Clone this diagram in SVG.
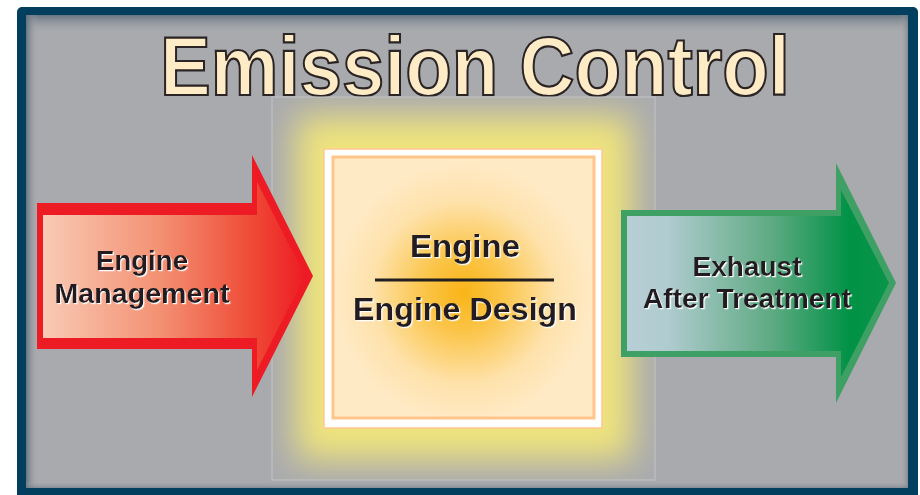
<svg xmlns="http://www.w3.org/2000/svg" width="920" height="495" viewBox="0 0 920 495">
  <defs>
    <style>
      .lbl { font-family: "Liberation Sans", Arial, sans-serif; font-weight: bold; fill: #231f20; text-anchor: middle; filter: url(#wsh); }
      .title { font-family: "Liberation Sans", Arial, sans-serif; font-weight: bold; font-size: 84px; fill: #ffebc6; stroke: #2a2524; stroke-width: 2.2; text-anchor: middle; }
    </style>
    <filter id="wsh" x="-10%" y="-30%" width="120%" height="160%">
      <feDropShadow dx="1.2" dy="1.2" stdDeviation="0.2" flood-color="#ffffff" flood-opacity="1"/>
    </filter>
    <filter id="glow" x="-30%" y="-30%" width="160%" height="160%">
      <feGaussianBlur stdDeviation="17"/>
    </filter>
    <clipPath id="panelClip">
      <rect x="272" y="97" width="383" height="383"/>
    </clipPath>
    <linearGradient id="topShade" x1="0" y1="0" x2="0" y2="1">
      <stop offset="0" stop-color="#5e6e7c" stop-opacity="0.9"/>
      <stop offset="1" stop-color="#a9aaae" stop-opacity="0"/>
    </linearGradient>
    <linearGradient id="leftShade" x1="0" y1="0" x2="1" y2="0">
      <stop offset="0" stop-color="#5e6e7c" stop-opacity="0.9"/>
      <stop offset="1" stop-color="#a9aaae" stop-opacity="0"/>
    </linearGradient>
    <linearGradient id="rightShade" x1="1" y1="0" x2="0" y2="0">
      <stop offset="0" stop-color="#6e7884" stop-opacity="0.6"/>
      <stop offset="1" stop-color="#a9aaae" stop-opacity="0"/>
    </linearGradient>
    <linearGradient id="bottomShade" x1="0" y1="1" x2="0" y2="0">
      <stop offset="0" stop-color="#6e7884" stop-opacity="0.6"/>
      <stop offset="1" stop-color="#a9aaae" stop-opacity="0"/>
    </linearGradient>
    <radialGradient id="core" cx="0.5" cy="0.52" r="0.5">
      <stop offset="0" stop-color="#f9b417"/>
      <stop offset="0.3" stop-color="#fbc549"/>
      <stop offset="0.7" stop-color="#fee2ab"/>
      <stop offset="1" stop-color="#ffeac6"/>
    </radialGradient>
    <linearGradient id="redGrad" x1="43" y1="0" x2="305" y2="0" gradientUnits="userSpaceOnUse">
      <stop offset="0" stop-color="#f9cab5"/>
      <stop offset="0.45" stop-color="#f39072"/>
      <stop offset="0.8" stop-color="#ef4a36"/>
      <stop offset="1" stop-color="#ed1c24"/>
    </linearGradient>
    <linearGradient id="greenGrad" x1="627" y1="0" x2="889" y2="0" gradientUnits="userSpaceOnUse">
      <stop offset="0" stop-color="#b6cfd6"/>
      <stop offset="0.15" stop-color="#b0ccd0"/>
      <stop offset="0.55" stop-color="#5faa83"/>
      <stop offset="0.85" stop-color="#009245"/>
      <stop offset="1" stop-color="#0a944a"/>
    </linearGradient>
  </defs>

  <rect x="0" y="0" width="920" height="495" fill="#ffffff"/>

  <g id="frame">
    <rect x="17" y="7" width="901" height="495" rx="5" fill="#023e5e"/>
    <rect x="26" y="15" width="882" height="473" fill="#a9aaae"/>
    <rect x="26" y="15" width="882" height="18" fill="url(#topShade)"/>
    <rect x="26" y="15" width="12" height="473" fill="url(#leftShade)"/>
    <rect x="900" y="15" width="8" height="473" fill="url(#rightShade)"/>
    <rect x="26" y="481" width="882" height="7" fill="url(#bottomShade)"/>
  </g>

  <g id="title">
    <text class="title" x="475" y="95" textLength="630" lengthAdjust="spacingAndGlyphs">Emission Control</text>
  </g>

  <g id="engine-panel">
    <g clip-path="url(#panelClip)">
      <rect x="296" y="116" width="336" height="344" fill="#f0e47c" filter="url(#glow)"/>
    </g>
    <rect x="272" y="97" width="383" height="383" fill="none" stroke="#c3c4c7" stroke-width="1"/>
    <rect x="324" y="149" width="278" height="279" fill="#ffffff" stroke="#ffc990" stroke-width="1.5"/>
    <rect x="333" y="157" width="261" height="261" fill="url(#core)" stroke="#ffc58a" stroke-width="3"/>
    <text class="lbl" x="465" y="257" font-size="32" textLength="110" lengthAdjust="spacingAndGlyphs">Engine</text>
    <line x1="375" y1="280" x2="554" y2="280" stroke="#231f20" stroke-width="3"/>
    <text class="lbl" x="465" y="320" font-size="32" textLength="224" lengthAdjust="spacingAndGlyphs">Engine Design</text>
  </g>

  <g id="engine-management">
    <polygon points="37,203 252,203 252,155 313,276 252,397 252,349 37,349" fill="#ed1c24"/>
    <polygon points="43,215 257,215 257,182 305,276 257,370 257,338 43,338" fill="url(#redGrad)"/>
    <text class="lbl" x="142" y="270" font-size="27" textLength="92" lengthAdjust="spacingAndGlyphs">Engine</text>
    <text class="lbl" x="142" y="303" font-size="27" textLength="175" lengthAdjust="spacingAndGlyphs">Management</text>
  </g>

  <g id="exhaust-after-treatment">
    <polygon points="621,210 836,210 836,163 896,283 836,403 836,357 621,357" fill="#3fa066"/>
    <polygon points="627,216 841,216 841,190 889,283 841,377 841,351 627,351" fill="url(#greenGrad)"/>
    <text class="lbl" x="747" y="276" font-size="27" textLength="109" lengthAdjust="spacingAndGlyphs">Exhaust</text>
    <text class="lbl" x="747" y="308" font-size="27" textLength="208" lengthAdjust="spacingAndGlyphs">After Treatment</text>
  </g>
</svg>
